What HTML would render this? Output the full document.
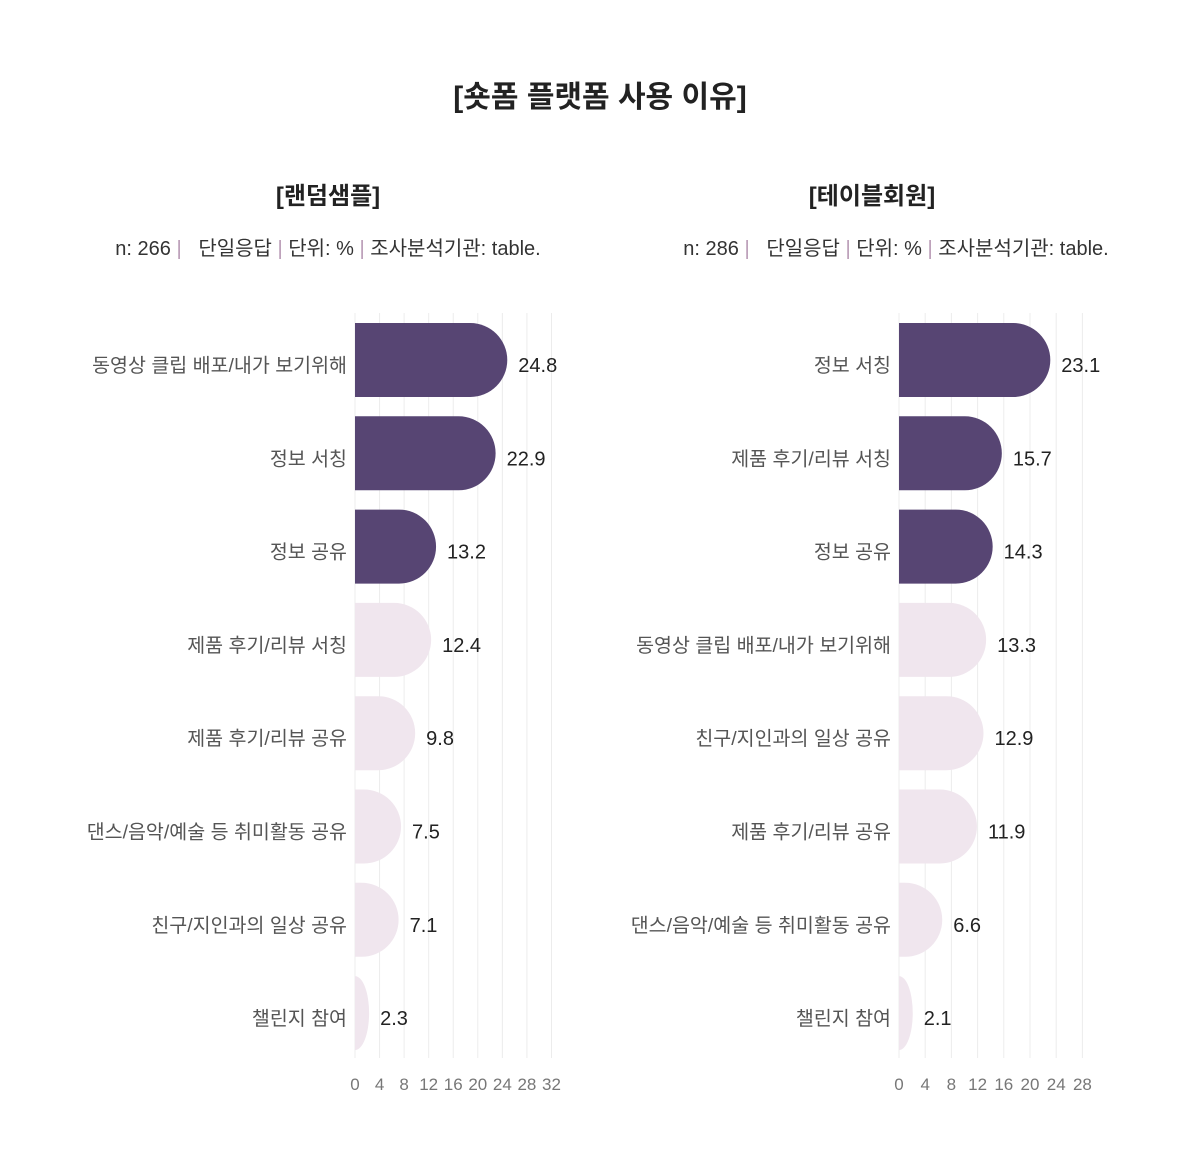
<!DOCTYPE html>
<html><head><meta charset="utf-8"><style>
body{margin:0;background:#fff;width:1200px;height:1164px;overflow:hidden}
svg text{font-family:"Liberation Sans","Noto Sans CJK KR",sans-serif}
</style></head><body>
<svg id="s" width="1200" height="1164" xmlns="http://www.w3.org/2000/svg">
<text x="600" y="107" text-anchor="middle" font-size="30" font-weight="bold" fill="#222">[숏폼 플랫폼 사용 이유]</text>
<text x="328" y="204" text-anchor="middle" font-size="24" font-weight="bold" fill="#222">[랜덤샘플]</text>
<text x="872" y="204" text-anchor="middle" font-size="24" font-weight="bold" fill="#222">[테이블회원]</text>
<text x="328" y="255" text-anchor="middle" font-size="20" fill="#333" xml:space="preserve">n: 266 <tspan fill="#b89ab5">|</tspan>   단일응답 <tspan fill="#b89ab5">|</tspan> 단위: % <tspan fill="#b89ab5">|</tspan> 조사분석기관: table.</text>
<text x="896" y="255" text-anchor="middle" font-size="20" fill="#333" xml:space="preserve">n: 286 <tspan fill="#b89ab5">|</tspan>   단일응답 <tspan fill="#b89ab5">|</tspan> 단위: % <tspan fill="#b89ab5">|</tspan> 조사분석기관: table.</text>
</svg>
<script>
var s=document.getElementById('s'),h='';
function chart(x0,k,maxT,data,ndark){
 for(var t=0;t<=maxT;t+=4){var x=x0+t*k;
  h+='<line x1="'+x+'" y1="313" x2="'+x+'" y2="1058" stroke="#ececec" stroke-width="1"/>';
  h+='<text x="'+x+'" y="1090" text-anchor="middle" font-size="17" fill="#777">'+t+'</text>';}
 data.forEach(function(d,i){
  var y=323+i*93.3,w=d[1]*k,r=Math.min(37,w),c=i<ndark?'#574573':'#f0e6ee';
  h+='<path d="M'+x0+','+y+'H'+(x0+w-r)+'A'+r+',37 0 0 1 '+(x0+w)+','+(y+37)+'A'+r+',37 0 0 1 '+(x0+w-r)+','+(y+74)+'H'+x0+'Z" fill="'+c+'"/>';
  h+='<text x="'+(x0-8)+'" y="'+(y+49)+'" text-anchor="end" font-size="19.5" fill="#555">'+d[0]+'</text>';
  h+='<text x="'+(x0+w+11)+'" y="'+(y+49)+'" font-size="20" fill="#222">'+d[1].toFixed(1)+'</text>';
 });
}
chart(355,6.14,32,[["동영상 클립 배포/내가 보기위해",24.8],["정보 서칭",22.9],["정보 공유",13.2],["제품 후기/리뷰 서칭",12.4],["제품 후기/리뷰 공유",9.8],["댄스/음악/예술 등 취미활동 공유",7.5],["친구/지인과의 일상 공유",7.1],["챌린지 참여",2.3]],3);
chart(899,6.55,28,[["정보 서칭",23.1],["제품 후기/리뷰 서칭",15.7],["정보 공유",14.3],["동영상 클립 배포/내가 보기위해",13.3],["친구/지인과의 일상 공유",12.9],["제품 후기/리뷰 공유",11.9],["댄스/음악/예술 등 취미활동 공유",6.6],["챌린지 참여",2.1]],3);
s.insertAdjacentHTML('beforeend',h);
</script>
</body></html>
